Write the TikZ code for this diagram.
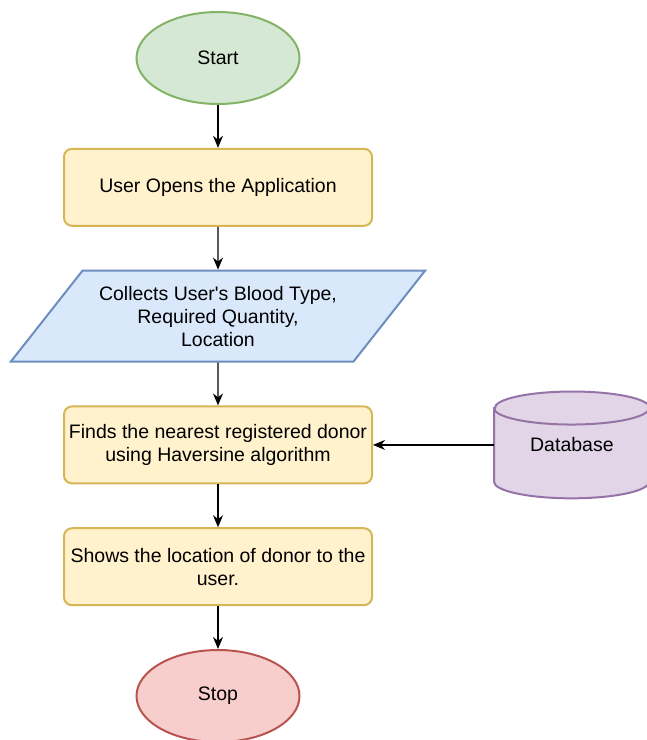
\documentclass[tikz,border=0pt]{standalone}
\usepackage{fontspec}
\setmainfont{Liberation Sans}
\usetikzlibrary{positioning,shapes.geometric,arrows.meta,backgrounds}

\definecolor{startfill}{HTML}{D5E8D4}
\definecolor{startline}{HTML}{82B366}
\definecolor{procfill}{HTML}{FFF2CC}
\definecolor{procline}{HTML}{D6B656}
\definecolor{iofill}{HTML}{DAE8FC}
\definecolor{ioline}{HTML}{6C8EBF}
\definecolor{dbfill}{HTML}{E1D5E7}
\definecolor{dbline}{HTML}{9673A6}
\definecolor{stopfill}{HTML}{F8CECC}
\definecolor{stopline}{HTML}{B85450}

\begin{document}
\begin{tikzpicture}[x=1pt, y=1pt, node distance={42.8pt}, thick,
        font=\fontsize{19.5}{23}\selectfont,
        term/.style = {draw, ellipse, line width=2pt, minimum width=163pt, minimum height=92pt},
        proc/.style = {draw=procline, fill=procfill, rounded corners=8pt, line width=2pt,
                       minimum width=308pt, minimum height=77pt, inner sep=2pt, align=center},
        io/.style = {draw=ioline, fill=iofill, trapezium, trapezium left angle=46, trapezium right angle=134,
                     trapezium stretches, minimum width=415pt, minimum height=91pt, line width=2pt, align=center},
        conn/.style = {line width=1.4pt, -{Stealth[length=12pt,width=10pt]}}]
        \useasboundingbox (0,0) rectangle (647,-740);

        \node[term, draw=startline, fill=startfill] (start) at (218,-58) {Start};
        \node[proc] (open) [below=of start] {User Opens the Application};
        \node[io] (collect) [below=of open] {Collects User\textquotesingle s Blood Type,\\ Required Quantity,\\ Location};
        \node[proc] (find) [below=of collect] {Finds the nearest registered donor\\ using Haversine algorithm};
        \node[proc] (show) [below=of find] {Shows the location of donor to the\\ user.};
        \node[term, draw=stopline, fill=stopfill] (stop) [below=of show] {Stop};
        \node (db) [right=121pt of find, minimum width=155pt, minimum height=106pt] {Database};

        % cylinder behind the database text
        \begin{scope}[on background layer]
            \draw[draw=dbline, fill=dbfill, line width=2pt] ([yshift=-16.5pt]db.north west) -- ([yshift=16.5pt]db.south west)
                arc[start angle=180, end angle=360, x radius=77.5pt, y radius=16.5pt] -- ([yshift=-16.5pt]db.north east)
                arc[start angle=0, end angle=180, x radius=77.5pt, y radius=16.5pt] -- cycle;
            \draw[draw=dbline, line width=2pt] ([yshift=-16.5pt]db.north west)
                arc[start angle=180, end angle=360, x radius=77.5pt, y radius=16.5pt];
        \end{scope}

        \path[conn] (start) edge (open);
        \path[conn] (open) edge (collect);
        \path[conn] (collect) edge (find);
        \path[conn] (db) edge (find);
        \path[conn] (find) edge (show);
        \path[conn] (show) edge (stop);
\end{tikzpicture}
\end{document}
